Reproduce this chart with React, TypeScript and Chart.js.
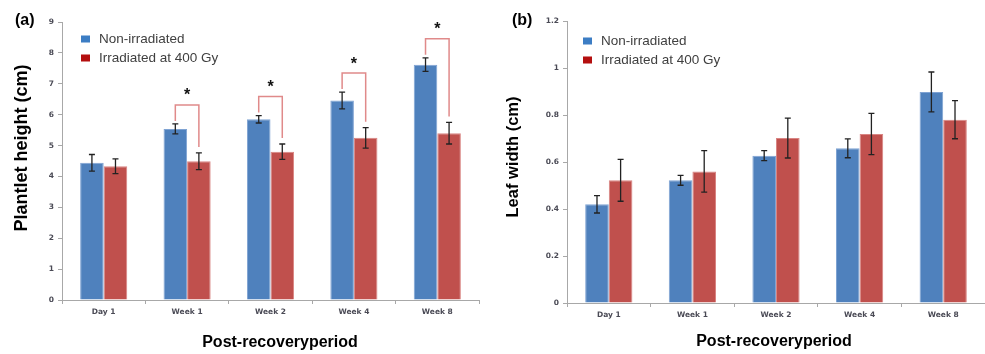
import React, { useEffect, useRef } from "react";
import { Chart, registerables } from "chart.js";
Chart.register(...registerables);

const categories = ["Day 1", "Week 1", "Week 2", "Week 4", "Week 8"];
const seriesNames = ["Non-irradiated", "Irradiated at 400 Gy"];

const heightNon = [4.44, 5.54, 5.85, 6.46, 7.62];
const heightNonErr = [0.27, 0.16, 0.12, 0.27, 0.22];
const heightIrr = [4.33, 4.49, 4.8, 5.25, 5.4];
const heightIrrErr = [0.24, 0.27, 0.25, 0.33, 0.35];
const heightSignificant = [false, true, true, true, true];
const heightAxis = { min: 0, max: 9, step: 1 };

const widthNon = [0.42, 0.522, 0.627, 0.658, 0.898];
const widthNonErr = [0.037, 0.021, 0.021, 0.04, 0.085];
const widthIrr = [0.522, 0.56, 0.702, 0.719, 0.78];
const widthIrrErr = [0.089, 0.088, 0.085, 0.088, 0.081];
const widthSignificant = [false, false, false, false, false];
const widthAxis = { min: 0, max: 1.2, step: 0.2 };

const BAR_BLUE = "#4F81BD";
const BAR_RED = "#C0504D";
const LEG_BLUE = "#3C7DC4";
const LEG_RED = "#B40F0F";

type PanelCfg = {
  label: string;
  yTitle: string;
  yTitleSize: number;
  xTitle: string;
  non: number[];
  nonErr: number[];
  irr: number[];
  irrErr: number[];
  sig: boolean[];
  axis: { min: number; max: number; step: number };
  yWidth: number;
  xHeight: number;
  padTop: number;
  padRight: number;
  labelPos: [number, number];
  yTitlePos: [number, number];
  xTitlePos: [number, number];
  legendPos: [number, number];
};

function makeChart(canvas: HTMLCanvasElement, cfg: PanelCfg) {
  const overlay = {
    id: "overlay",
    afterDatasetsDraw(chart: any) {
      const ctx = chart.ctx;
      const ys = chart.scales.y;
      const vals = [cfg.non, cfg.irr];
      const errs = [cfg.nonErr, cfg.irrErr];
      ctx.save();
      ctx.strokeStyle = "#222";
      ctx.lineWidth = 1.3;
      for (let d = 0; d < 2; d++) {
        const meta = chart.getDatasetMeta(d);
        meta.data.forEach((bar: any, j: number) => {
          const x = bar.x;
          const t = ys.getPixelForValue(vals[d][j] + errs[d][j]);
          const b = ys.getPixelForValue(vals[d][j] - errs[d][j]);
          ctx.beginPath();
          ctx.moveTo(x, t);
          ctx.lineTo(x, b);
          ctx.moveTo(x - 3, t);
          ctx.lineTo(x + 3, t);
          ctx.moveTo(x - 3, b);
          ctx.lineTo(x + 3, b);
          ctx.stroke();
        });
      }
      const m0 = chart.getDatasetMeta(0);
      const m1 = chart.getDatasetMeta(1);
      cfg.sig.forEach((s, j) => {
        if (!s) return;
        const xL = m0.data[j].x;
        const xR = m1.data[j].x;
        const tL = ys.getPixelForValue(cfg.non[j] + cfg.nonErr[j]);
        const tR = ys.getPixelForValue(cfg.irr[j] + cfg.irrErr[j]);
        const yb = Math.min(tL, tR) - 19;
        ctx.strokeStyle = "#E08A8A";
        ctx.lineWidth = 1.5;
        ctx.beginPath();
        ctx.moveTo(xL, tL - 3);
        ctx.lineTo(xL, yb);
        ctx.lineTo(xR, yb);
        ctx.lineTo(xR, tR - 6);
        ctx.stroke();
        ctx.fillStyle = "#111";
        ctx.font = "bold 16px 'Liberation Sans'";
        ctx.textAlign = "center";
        ctx.textBaseline = "middle";
        ctx.fillText("*", (xL + xR) / 2, yb - 9);
      });
      ctx.restore();
    },
    afterDraw(chart: any) {
      const ctx = chart.ctx;
      ctx.save();
      ctx.fillStyle = "#000";
      ctx.textBaseline = "middle";
      ctx.textAlign = "left";
      ctx.font = "bold 16px 'Liberation Sans'";
      ctx.fillText(cfg.label, cfg.labelPos[0], cfg.labelPos[1]);
      ctx.textAlign = "center";
      ctx.fillText(cfg.xTitle, cfg.xTitlePos[0], cfg.xTitlePos[1]);
      ctx.save();
      ctx.translate(cfg.yTitlePos[0], cfg.yTitlePos[1]);
      ctx.rotate(-Math.PI / 2);
      ctx.font = `bold ${cfg.yTitleSize}px 'Liberation Sans'`;
      ctx.fillText(cfg.yTitle, 0, 0);
      ctx.restore();
      const [lx, ly] = cfg.legendPos;
      const cols = [LEG_BLUE, LEG_RED];
      ctx.font = "13.5px 'Liberation Sans'";
      ctx.textAlign = "left";
      seriesNames.forEach((n, i) => {
        const cy = ly + i * 19;
        ctx.fillStyle = cols[i];
        ctx.fillRect(lx, cy - 3.5, 9, 7);
        ctx.fillStyle = "#404040";
        ctx.fillText(n, lx + 18, cy);
      });
      ctx.restore();
    },
  };

  return new Chart(canvas, {
    type: "bar",
    data: {
      labels: categories,
      datasets: [
        {
          label: seriesNames[0],
          data: cfg.non,
          backgroundColor: BAR_BLUE,
          borderColor: "#7FA3D3",
          borderWidth: 1,
          categoryPercentage: 0.565,
          barPercentage: 1,
        },
        {
          label: seriesNames[1],
          data: cfg.irr,
          backgroundColor: BAR_RED,
          borderColor: "#D98583",
          borderWidth: 1,
          categoryPercentage: 0.565,
          barPercentage: 1,
        },
      ],
    },
    options: {
      responsive: false,
      animation: false,
      devicePixelRatio: 1,
      layout: { padding: { left: 0, right: cfg.padRight, top: cfg.padTop, bottom: 0 } },
      plugins: { legend: { display: false }, tooltip: { enabled: false }, title: { display: false } },
      scales: {
        x: {
          grid: { display: true, drawOnChartArea: false, drawTicks: true, tickLength: 4, color: "#A8A8A8", offset: true },
          border: { color: "#A8A8A8", width: 1 },
          ticks: { color: "#4A4A55", font: { family: "'DejaVu Sans'", size: 7.5, weight: "bold" }, padding: 4 },
          afterFit: (s: any) => {
            s.height = cfg.xHeight;
          },
        },
        y: {
          min: cfg.axis.min,
          max: cfg.axis.max,
          grid: { display: true, drawOnChartArea: false, drawTicks: true, tickLength: 4, color: "#A8A8A8" },
          border: { color: "#A8A8A8", width: 1 },
          ticks: {
            stepSize: cfg.axis.step,
            color: "#4A4A55",
            font: { family: "'DejaVu Sans'", size: 7.5, weight: "bold" },
            padding: 4,
            callback: (v: any) => String(+Number(v).toFixed(2)),
          },
          afterFit: (s: any) => {
            s.width = cfg.yWidth;
          },
        },
      },
    },
    plugins: [overlay],
  } as any);
}

export default function App() {
  const refA = useRef<HTMLCanvasElement>(null);
  const refB = useRef<HTMLCanvasElement>(null);
  useEffect(() => {
    const a = makeChart(refA.current!, {
      label: "(a)",
      yTitle: "Plantlet height (cm)",
      yTitleSize: 18,
      xTitle: "Post-recoveryperiod",
      non: heightNon,
      nonErr: heightNonErr,
      irr: heightIrr,
      irrErr: heightIrrErr,
      sig: heightSignificant,
      axis: heightAxis,
      yWidth: 62,
      xHeight: 54,
      padTop: 22,
      padRight: 11,
      labelPos: [15, 21],
      yTitlePos: [22, 148],
      xTitlePos: [280, 343],
      legendPos: [81, 39],
    });
    const b = makeChart(refB.current!, {
      label: "(b)",
      yTitle: "Leaf width (cm)",
      yTitleSize: 16.5,
      xTitle: "Post-recoveryperiod",
      non: widthNon,
      nonErr: widthNonErr,
      irr: widthIrr,
      irrErr: widthIrrErr,
      sig: widthSignificant,
      axis: widthAxis,
      yWidth: 77,
      xHeight: 51,
      padTop: 21,
      padRight: 0,
      labelPos: [22, 21],
      yTitlePos: [23, 157],
      xTitlePos: [284, 342],
      legendPos: [93, 41],
    });
    return () => {
      a.destroy();
      b.destroy();
    };
  }, []);
  return (
    <div style={{ position: "absolute", left: 0, top: 0, width: 985, height: 354, background: "#fff", overflow: "hidden" }}>
      <canvas ref={refA} width={490} height={354} style={{ position: "absolute", left: 0, top: 0, display: "block" }} />
      <canvas ref={refB} width={495} height={354} style={{ position: "absolute", left: 490, top: 0, display: "block" }} />
    </div>
  );
}
